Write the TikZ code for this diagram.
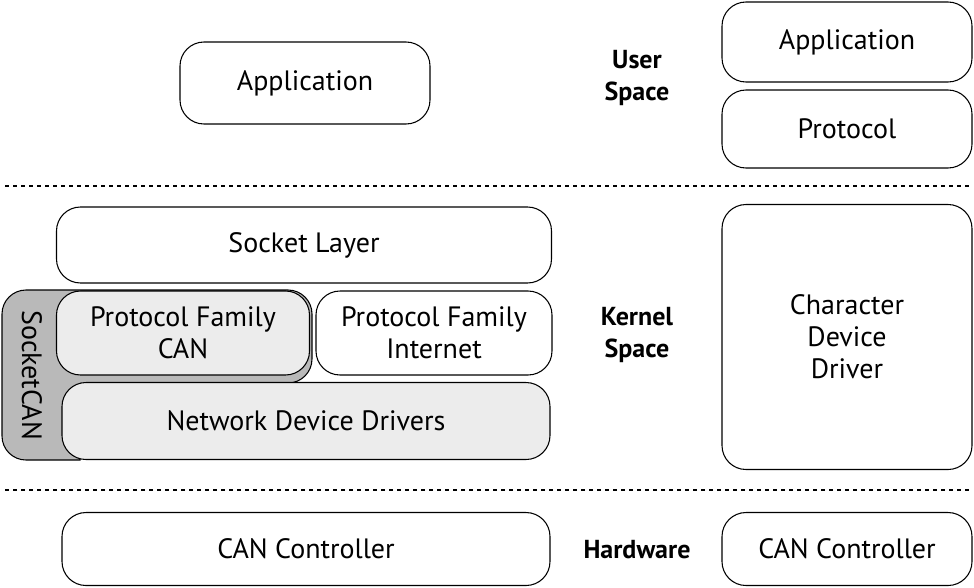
\documentclass[tikz,border=0pt]{standalone}
\usepackage{fontspec}
\setmainfont{PT Sans}
\begin{document}
\begin{tikzpicture}[x=0.75pt,y=-0.75pt,
  box/.style={draw,thick,rounded corners=18pt,fill=white,font=\fontsize{21}{24}\selectfont,align=center},
  gbox/.style={box,fill=gray!15},
  lbl/.style={font=\bfseries\fontsize{19.5}{24}\selectfont,align=center}
]
\useasboundingbox (0,0) rectangle (974,587);

% user space
\node[box,minimum width=250*0.75pt,minimum height=82*0.75pt] (app) at (305,83) {Application};
\node[box,minimum width=250*0.75pt,minimum height=80*0.75pt] (rapp) at (847,42) {Application};
\node[box,minimum width=250*0.75pt,minimum height=78*0.75pt] (rproto) at (847,129) {Protocol};
\node[lbl] (user) at (637,78) {User\\Space};

\draw[thick,dashed] (5,186) coordinate (d1) -- (970,186) coordinate (d2);

% kernel space
\path[fill=gray!55,draw,thick,rounded corners=18pt] (80,460) -- (2,460) -- (2,290) -- (312,290) -- (312,383) -- (80,383) [sharp corners] -- (80,460) -- cycle;
\node[rotate=-90,font=\fontsize{21}{24}\selectfont] (scan) at (32,375) {SocketCAN};
\node[box,minimum width=495*0.75pt,minimum height=76*0.75pt] (sock) at (304,245) {Socket Layer};
\node[gbox,minimum width=253*0.75pt,minimum height=84*0.75pt] (pfcan) at (183,333) {Protocol Family\\CAN};
\node[box,minimum width=236*0.75pt,minimum height=84*0.75pt] (pfinet) at (434,333) {Protocol Family\\Internet};
\node[gbox,minimum width=488*0.75pt,minimum height=77*0.75pt] (ndd) at (306,421) {Network Device Drivers};
\node[box,minimum width=250*0.75pt,minimum height=265*0.75pt] (cdd) at (847,337) {Character\\Device\\Driver};
\node[lbl] (kern) at (637,335) {Kernel\\Space};

\draw[thick,dashed] (5,490) coordinate (d3) -- (970,490) coordinate (d4);

% hardware
\node[box,minimum width=488*0.75pt,minimum height=73*0.75pt] (can) at (306,549) {CAN Controller};
\node[box,minimum width=250*0.75pt,minimum height=73*0.75pt] (rcan) at (847,549) {CAN Controller};
\node[lbl] (hw) at (637,550) {Hardware};
\end{tikzpicture}
\end{document}
